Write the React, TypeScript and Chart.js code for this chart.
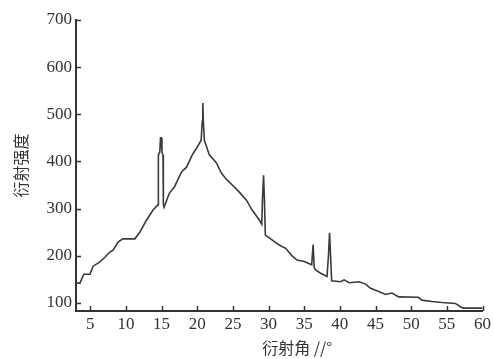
import React, { useEffect, useRef } from "react";
import { Chart, registerables } from "chart.js";

Chart.register(...registerables);

// Diffraction angle (deg) and intensity
const angles = [
  3.0, 3.55, 4.1, 4.95, 5.4, 6.35, 7.05, 7.75, 8.2, 8.9, 9.55, 11.25, 11.95, 12.9, 13.8,
  14.5, 14.55, 14.75, 14.85, 14.95, 15.05, 15.2, 15.25, 15.35, 16.1, 16.8, 17.8, 18.5,
  19.3, 19.9, 20.55, 20.7, 20.78, 20.86, 21.0, 21.7, 22.7, 23.4, 24.1, 25.2, 25.9, 26.9,
  27.7, 28.7, 29.05, 29.15, 29.3, 29.42, 29.55, 30.3, 31.0, 31.5, 32.4, 33.3, 34.0, 35.0,
  36.05, 36.25, 36.4, 36.6, 37.3, 38.2, 38.4, 38.55, 38.7, 38.85, 40.1, 40.6, 41.3, 42.7,
  43.6, 44.3, 45.2, 46.4, 47.3, 48.25, 51.0, 51.5, 52.9, 54.3, 56.2, 56.9, 57.3, 60.0,
];
const intensity = [
  142, 142, 161, 161, 178, 187, 197, 208, 212, 229, 236, 236, 250, 276, 297,
  308, 414, 420, 450, 450, 420, 414, 310, 303, 333, 346, 378, 388,
  414, 428, 445, 485, 524, 485, 445, 414, 397, 375, 362, 346, 335, 318,
  297, 276, 267, 320, 371, 320, 244, 236, 228, 223, 216, 200, 191, 188,
  181, 224, 175, 170, 163, 156, 200, 249, 200, 147, 145, 149, 143, 145,
  140, 131, 126, 118, 121, 113, 112, 106, 103, 101, 99, 92, 89, 89,
];

const xTicks = [5, 10, 15, 20, 25, 30, 35, 40, 45, 50, 55, 60];
const yTicks = [100, 200, 300, 400, 500, 600, 700];

const xTitle = "衍射角 //°";
const yTitle = "衍射强度";

const ink = "#333333";

const innerTicks = {
  id: "innerTicks",
  afterDraw(chart: any) {
    const { ctx, scales } = chart;
    const x = scales.x;
    const y = scales.y;
    ctx.save();
    ctx.strokeStyle = ink;
    ctx.lineWidth = 1.5;
    x.ticks.forEach((t: any) => {
      const px = Math.round(x.getPixelForValue(t.value)) + 0.5;
      ctx.beginPath();
      ctx.moveTo(px, x.top);
      ctx.lineTo(px, x.top - 5);
      ctx.stroke();
    });
    y.ticks.forEach((t: any) => {
      const py = Math.round(y.getPixelForValue(t.value)) + 0.5;
      ctx.beginPath();
      ctx.moveTo(y.right, py);
      ctx.lineTo(y.right + 5, py);
      ctx.stroke();
    });
    ctx.font = '16px "Noto Sans CJK SC"';
    ctx.fillStyle = ink;
    ctx.textAlign = "center";
    ctx.textBaseline = "middle";
    ctx.fillText(xTitle, (x.left + x.right) / 2 + 18, x.bottom - 11);
    ctx.restore();
  },
};

export default function App() {
  const ref = useRef<HTMLCanvasElement>(null);
  useEffect(() => {
    if (!ref.current) return;
    const chart = new Chart(ref.current, {
      type: "scatter",
      data: {
        datasets: [
          {
            data: angles.map((a, i) => ({ x: a, y: intensity[i] })),
            showLine: true,
            borderColor: "#3a3a3a",
            borderWidth: 1.6,
            pointRadius: 0,
            tension: 0,
            fill: false,
          },
        ],
      },
      options: {
        animation: false,
        responsive: false,
        layout: { padding: { top: 20, right: 10, bottom: 0, left: 0 } },
        plugins: { legend: { display: false }, tooltip: { enabled: false } },
        scales: {
          x: {
            type: "linear",
            min: 3,
            max: 60,
            afterBuildTicks: (s: any) => {
              s.ticks = xTicks.map((v) => ({ value: v }));
            },
            afterFit: (s: any) => {
              s.height = 48;
            },
            grid: { display: true, drawOnChartArea: false, drawTicks: false },
            border: { display: true, color: ink, width: 2 },
            ticks: {
              padding: 3,
              color: ink,
              maxRotation: 0,
              autoSkip: false,
              font: { family: '"Liberation Serif"', size: 17 },
            },
          },
          y: {
            type: "linear",
            min: 83,
            max: 700,
            afterBuildTicks: (s: any) => {
              s.ticks = yTicks.map((v) => ({ value: v }));
            },
            afterFit: (s: any) => {
              s.width = 76;
            },
            grid: { display: true, drawOnChartArea: false, drawTicks: false },
            border: { display: true, color: ink, width: 2 },
            ticks: {
              padding: 4,
              color: ink,
              autoSkip: false,
              font: { family: '"Liberation Serif"', size: 17 },
            },
            title: {
              display: true,
              text: yTitle,
              color: ink,
              font: { family: '"Noto Sans CJK SC"', size: 16 },
              padding: { top: 11, bottom: 0 },
            },
          },
        },
      },
      plugins: [innerTicks],
    });
    return () => chart.destroy();
  }, []);
  return (
    <div style={{ position: "fixed", left: 0, top: 0, width: 494, height: 359, background: "#fff" }}>
      <canvas ref={ref} width={494} height={359} style={{ display: "block" }} />
    </div>
  );
}
